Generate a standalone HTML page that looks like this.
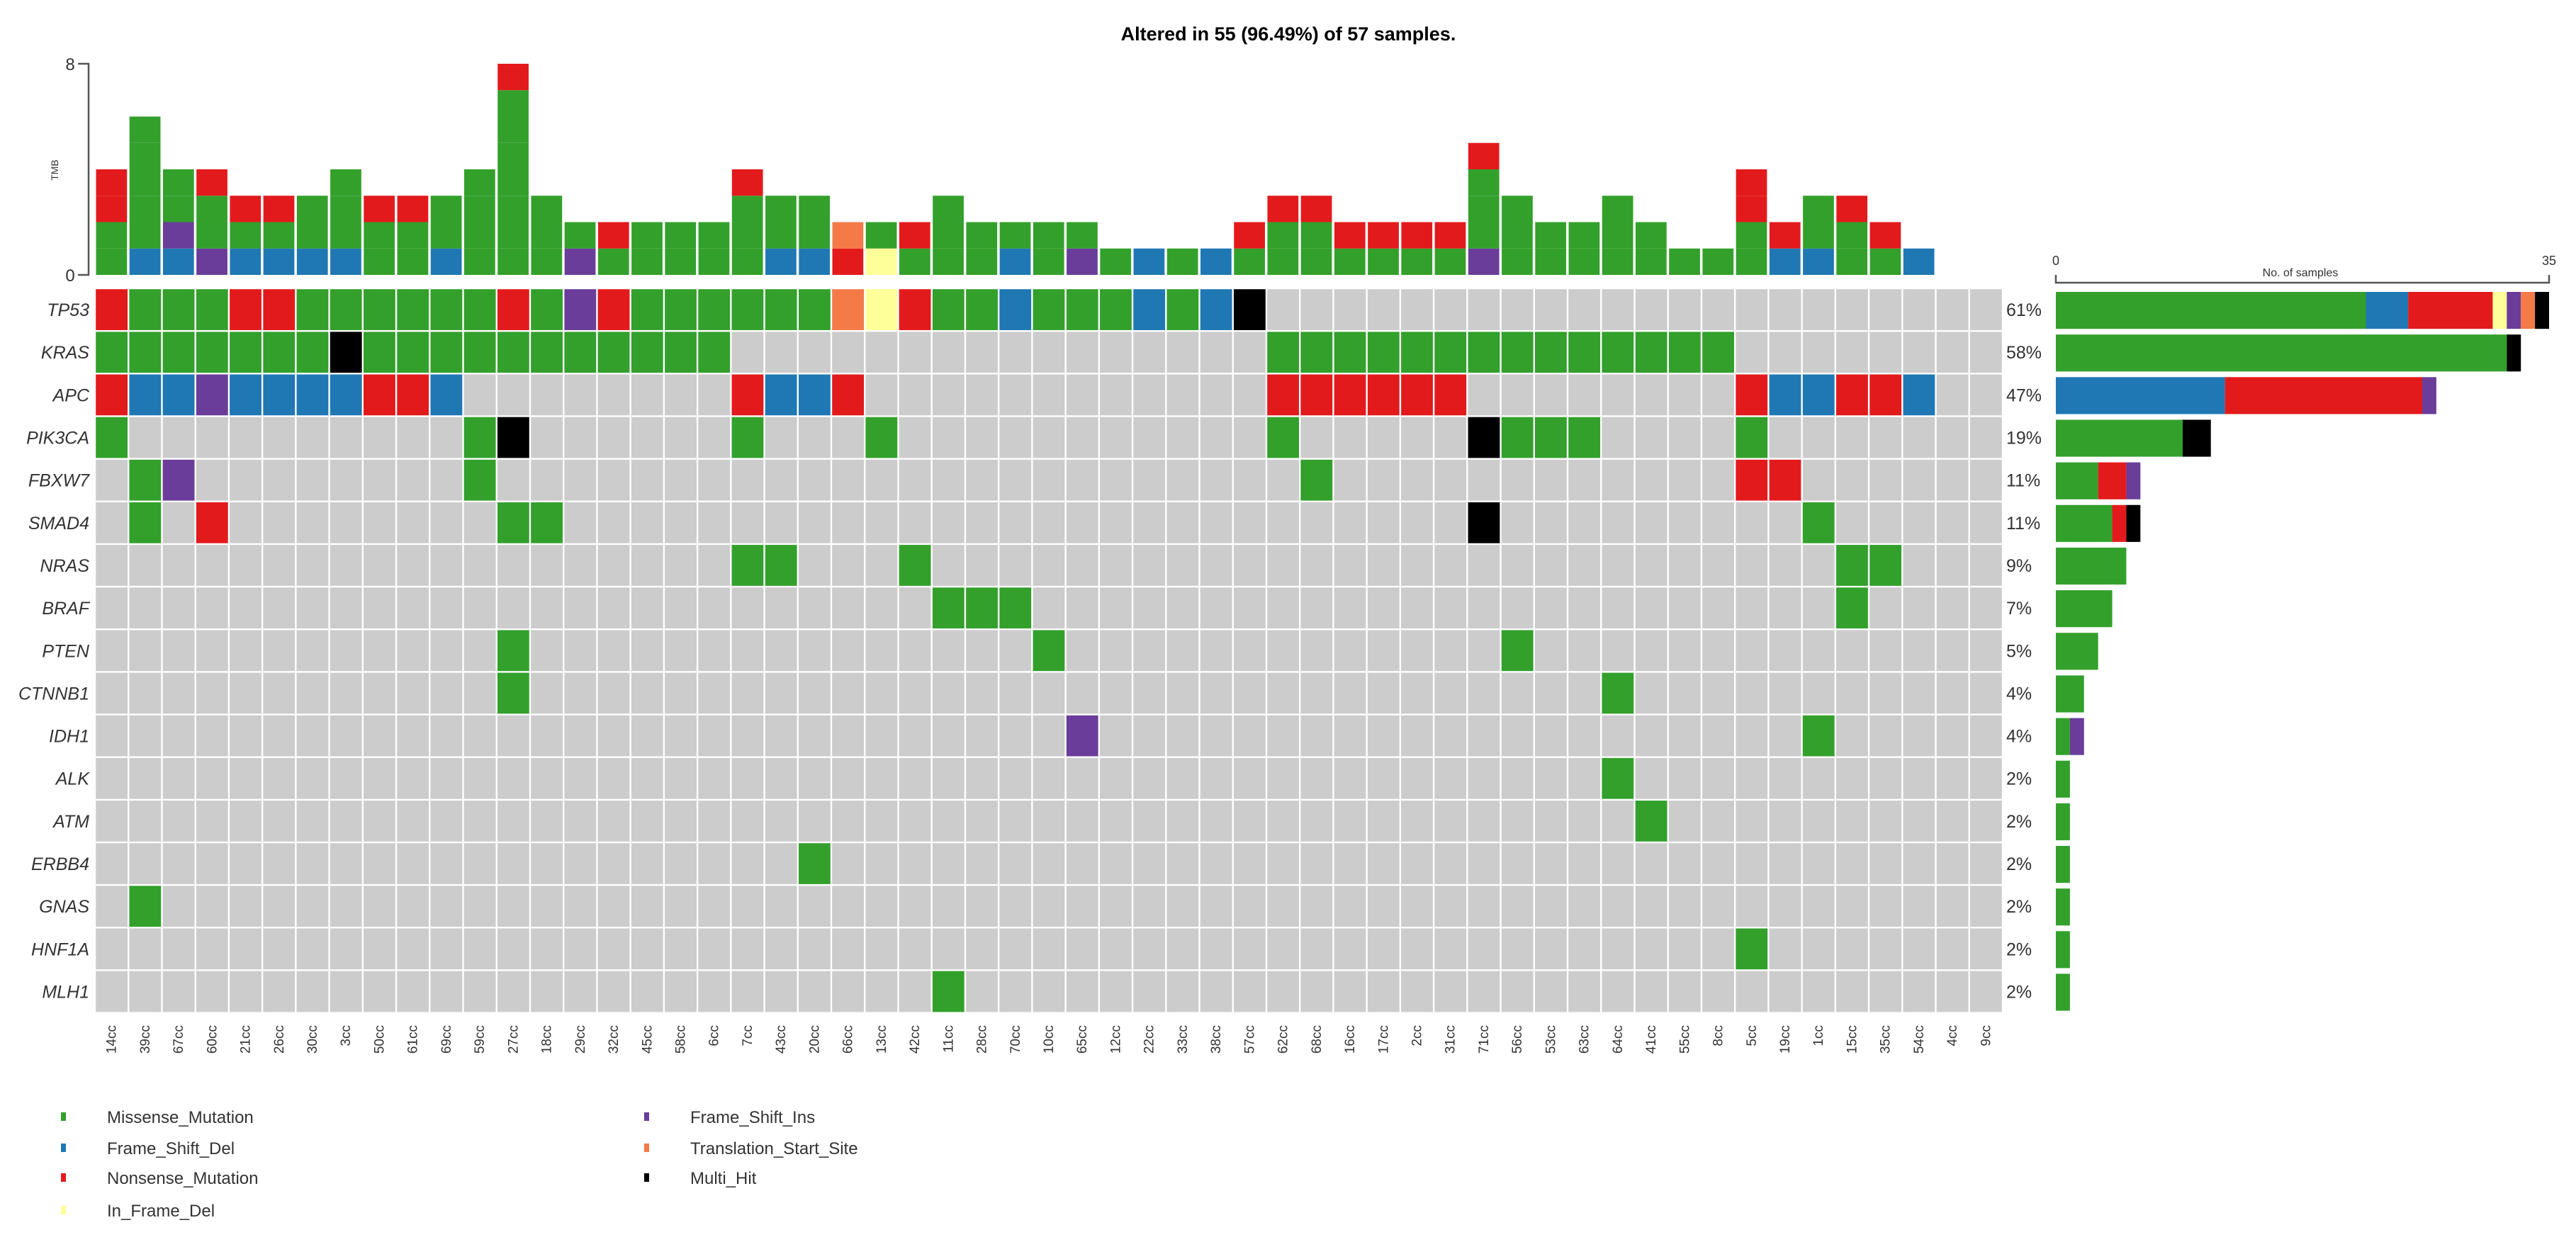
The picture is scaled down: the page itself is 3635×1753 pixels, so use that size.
<!DOCTYPE html>
<html><head><meta charset="utf-8"><style>
html,body{margin:0;padding:0;background:#fff;}
svg{display:block;font-family:"Liberation Sans Narrow","Liberation Sans",sans-serif;}
</style></head><body>
<svg id="chart" width="3635" height="1753" viewBox="0 0 3635 1753" xmlns="http://www.w3.org/2000/svg">
<text x="1818" y="57" text-anchor="middle" font-size="27" font-weight="bold" font-family="Liberation Sans, sans-serif">Altered in 55 (96.49%) of 57 samples.</text>
<g id="tmb"></g>
<g id="matrix"></g>
<g id="side"></g>
<g id="legend"></g>
</svg>
<script>
const samples = ["14cc","39cc","67cc","60cc","21cc","26cc","30cc","3cc","50cc","61cc","69cc","59cc","27cc","18cc","29cc","32cc","45cc","58cc","6cc","7cc","43cc","20cc","66cc","13cc","42cc","11cc","28cc","70cc","10cc","65cc","12cc","22cc","33cc","38cc","57cc","62cc","68cc","16cc","17cc","2cc","31cc","71cc","56cc","53cc","63cc","64cc","41cc","55cc","8cc","5cc","19cc","1cc","15cc","35cc","54cc","4cc","9cc"];
const genes = ["TP53","KRAS","APC","PIK3CA","FBXW7","SMAD4","NRAS","BRAF","PTEN","CTNNB1","IDH1","ALK","ATM","ERBB4","GNAS","HNF1A","MLH1"];
// M missense, D frame_shift_del, N nonsense, I in_frame_del, F frame_shift_ins, T translation_start_site, H multi_hit, . none
const geneRows = [
 "NMMMNNMMMMMMNMFNMMMMMMTINMMDMMMDMDH......................",
 "MMMMMMMHMMMMMMMMMMM................MMMMMMMMMMMMMM........",
 "NDDFDDDDNND........NDDN............NNNNNN........NDDNND..",
 "M..........MH......M...M...........M.....HMMM....M.......",
 ".MF........M........................M............NN......",
 ".M.N........MM...........................H.........M.....",
 "...................MM...M...........................MM...",
 ".........................MMM........................M....",
 "............M...............M.............M..............",
 "............M................................M...........",
 ".............................F.....................M.....",
 ".............................................M...........",
 "..............................................M..........",
 ".....................M...................................",
 ".M.......................................................",
 ".................................................M.......",
 ".........................M..............................."
];
const pctLabels = ["61%","58%","47%","19%","11%","11%","9%","7%","5%","4%","4%","2%","2%","2%","2%","2%","2%"];
// TMB stacks per sample (bottom to top)
const tmbStacks = ["NN".replace(/./g,"")].length ? [
 "MMNN","DMMMMM","DFMM","FMMN","DMN","DMN","DMM","DMMM","MMN","MMN","DMM","MMMM","MMMMMMMN","MMM","FM","MN","MM","MM","MM","MMMN",
 "DMM","DMM","NT","IM","MN","MMM","MM","DM","MM","FM","M","D","M","D","MN","MMN","MMN","MN","MN","MN","MN","FMMMN",
 "MMM","MM","MM","MMM","MM","M","M","MMNN","DN","DMM","MMN","MN","D","",""] : [];
const tmbTicks = [0, 8];
const sideTicks = [0, 35];

const colors = {M:"#33A02C",D:"#1F78B4",N:"#E31A1C",I:"#FFFF99",F:"#6A3D9A",T:"#F47A48",H:"#000000"};
const order = ["M","D","N","I","F","T","H"];
const NS = "http://www.w3.org/2000/svg";
function mk(tag, attrs, parent){const e=document.createElementNS(NS,tag);for(const k in attrs)e.setAttribute(k,attrs[k]);parent.appendChild(e);return e;}

const X0=134, X1=2826, Y0=407, RH=60.15;
const CW=(X1-X0)/samples.length;
const xCol = i => X0 + i*CW;
const yRow = r => Y0 + r*RH;
const tmbZero=388, tmbMax=8, tmbTop=90;
const yT = v => tmbZero - v*(tmbZero-tmbTop)/tmbMax;
const SX0=2901, SX1=3597, sMax=35;
const xS = v => SX0 + v*(SX1-SX0)/sMax;

// TMB panel
const tmb=document.getElementById('tmb');
const ax=mk('path',{d:`M110 ${yT(8)} H125 V${yT(0)} H110`,fill:'none',stroke:'#555','stroke-width':2.5},tmb);


tmbTicks.forEach(t=>{
  const tx=mk('text',{x:99,y:yT(t)+9,'text-anchor':'middle','font-size':24,fill:'#333'},tmb);
  tx.textContent=t;
  
  
});
const tl=mk('text',{x:0,y:0,transform:'translate(82,240) rotate(-90)','text-anchor':'middle','font-size':14,fill:'#333'},tmb);
tl.textContent='TMB';


tmbStacks.forEach((s,i)=>{
  let cum=0;
  for(const ch of s){
    const r=mk('rect',{x:xCol(i)+1.5,y:yT(cum+1),width:CW-3.5,height:yT(cum)-yT(cum+1),fill:colors[ch]},tmb);
    
    
    cum++;
  }
});

// matrix
const mx=document.getElementById('matrix');
genes.forEach((g,r)=>{
  const row=geneRows[r];
  for(let i=0;i<samples.length;i++){
    const ch=row[i];
    const c=mk('rect',{x:xCol(i)+1.2,y:yRow(r)+1.2,width:CW-2.4,height:RH-2.4,fill:ch==='.'?'#CCCCCC':colors[ch]},mx);
    
    
  }
  const gl=mk('text',{x:126,y:yRow(r)+RH/2+9,'text-anchor':'end','font-size':25,'font-style':'italic',fill:'#333'},mx);
  gl.textContent=g;
  
  
  const pl=mk('text',{x:2831,y:yRow(r)+RH/2+9,'font-size':25,fill:'#333'},mx);
  pl.textContent=pctLabels[r];
  
  
});
samples.forEach((s,i)=>{
  const cx=xCol(i)+CW/2+6;
  const t=mk('text',{x:0,y:0,transform:`translate(${cx},1447) rotate(-90)`,'text-anchor':'end','font-size':19,fill:'#333'},mx);
  t.textContent=s;
  
  
});

// side barplot
const sd=document.getElementById('side');
const sa=mk('path',{d:`M${SX0} 388 V399 H${SX1} V388`,fill:'none',stroke:'#555','stroke-width':2.5},sd);


sideTicks.forEach(t=>{
  const tx=mk('text',{x:xS(t),y:374,'text-anchor':'middle','font-size':18,fill:'#333'},sd);
  tx.textContent=t;
  
  
});
const st=mk('text',{x:3246,y:390,'text-anchor':'middle','font-size':16,fill:'#333'},sd);
st.textContent='No. of samples';


genes.forEach((g,r)=>{
  const row=geneRows[r];
  let cum=0;
  order.forEach(k=>{
    const n=row.split('').filter(c=>c===k).length;
    if(!n) return;
    const b=mk('rect',{x:xS(cum),y:yRow(r)+5,width:xS(cum+n)-xS(cum),height:RH-8,fill:colors[k]},sd);
    
    
    cum+=n;
  });
});

// legend
const lg=document.getElementById('legend');
const legItems=[["M","Missense_Mutation",89,1576],["D","Frame_Shift_Del",89,1620],["N","Nonsense_Mutation",89,1662],["I","In_Frame_Del",89,1708],
 ["F","Frame_Shift_Ins",912,1576],["T","Translation_Start_Site",912,1620],["H","Multi_Hit",912,1662]];
legItems.forEach(([k,label,x,y])=>{
  const sq=mk('rect',{x:x-3,y:y-6,width:7,height:12,fill:colors[k]},lg);
  
  
  const t=mk('text',{x:x+62,y:y+9,'font-size':24,fill:'#333'},lg);
  t.textContent=label;
  
  
});
</script>
</body></html>
